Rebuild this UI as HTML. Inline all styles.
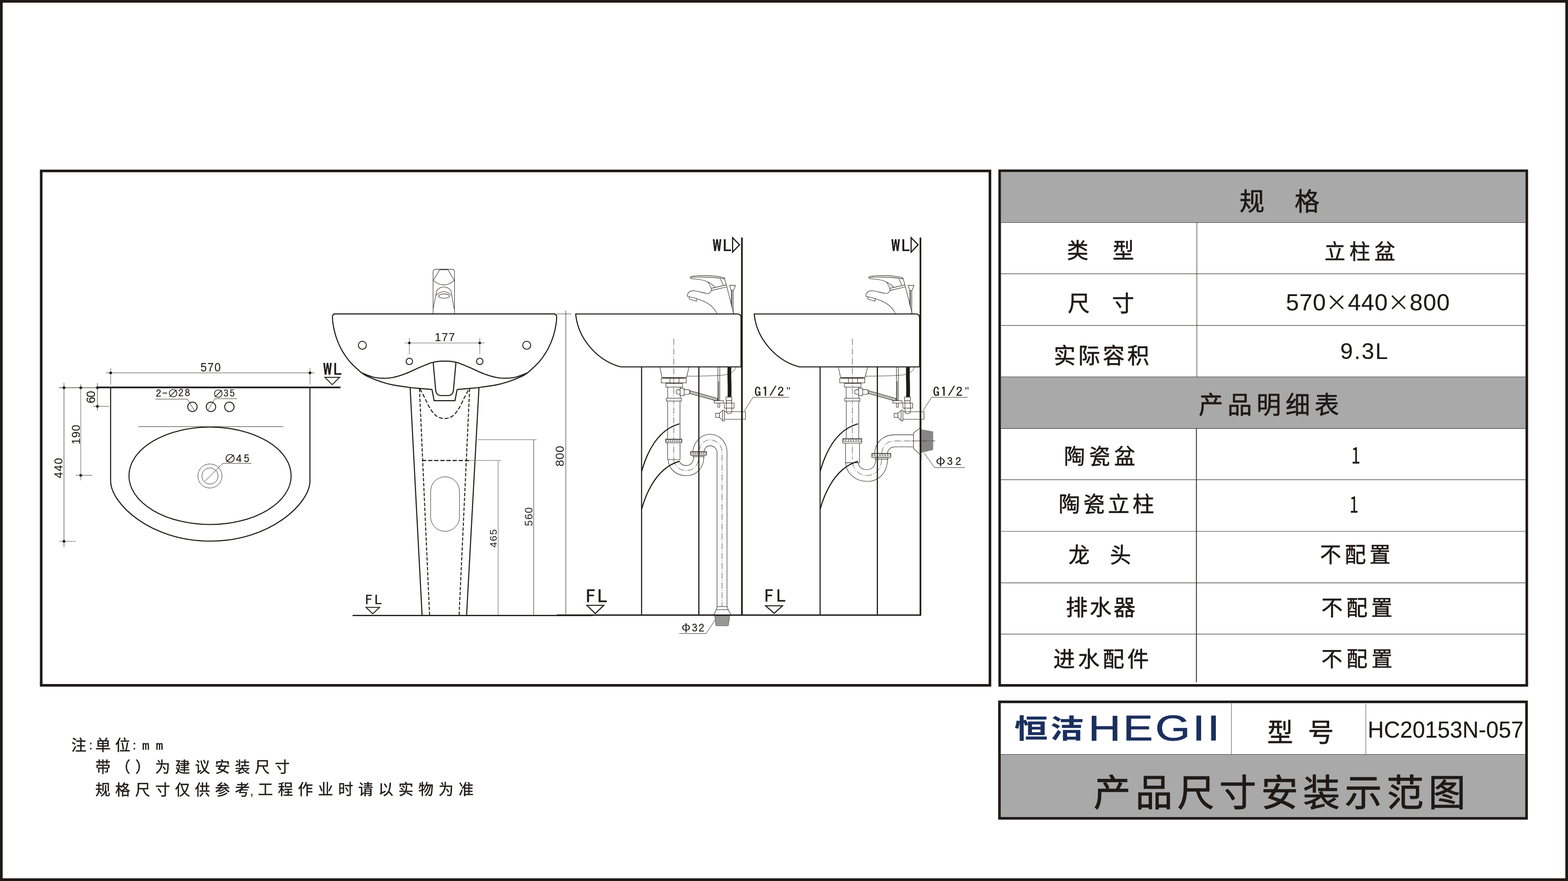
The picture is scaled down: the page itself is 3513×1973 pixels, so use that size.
<!DOCTYPE html>
<html lang="zh-CN">
<head>
<meta charset="utf-8">
<title>产品尺寸安装示范图 HC20153N-057</title>
<style>
html,body{margin:0;padding:0;background:#fff;}
body{width:3513px;height:1973px;overflow:hidden;}
svg{display:block;will-change:transform;}
text{white-space:pre;}
</style>
</head>
<body>
<svg width="3513" height="1973" viewBox="0 0 3513 1973">
<rect x="3" y="3" width="3507" height="1967" fill="none" stroke="#1f1a17" stroke-width="6" />
<rect x="92.3" y="382.8" width="2125.6" height="1152" fill="none" stroke="#1f1a17" stroke-width="5.8" />
<rect x="2242.7" y="385.3" width="1175.1" height="113.2" fill="#a9a9a9" />
<rect x="2242.7" y="844" width="1175.1" height="115.6" fill="#a9a9a9" />
<line x1="2242.7" y1="498.5" x2="3417.8" y2="498.5" stroke="#3a3533" stroke-width="1.2" />
<line x1="2242.7" y1="613.2" x2="3417.8" y2="613.2" stroke="#3a3533" stroke-width="1.2" />
<line x1="2242.7" y1="728.9" x2="3417.8" y2="728.9" stroke="#3a3533" stroke-width="1.2" />
<line x1="2242.7" y1="844" x2="3417.8" y2="844" stroke="#3a3533" stroke-width="1.2" />
<line x1="2242.7" y1="959.6" x2="3417.8" y2="959.6" stroke="#3a3533" stroke-width="1.2" />
<line x1="2242.7" y1="1074.3" x2="3417.8" y2="1074.3" stroke="#3a3533" stroke-width="1.2" />
<line x1="2242.7" y1="1190" x2="3417.8" y2="1190" stroke="#3a3533" stroke-width="1.2" />
<line x1="2242.7" y1="1305.3" x2="3417.8" y2="1305.3" stroke="#3a3533" stroke-width="1.2" />
<line x1="2242.7" y1="1420.1" x2="3417.8" y2="1420.1" stroke="#3a3533" stroke-width="1.2" />
<line x1="2681.5" y1="498.5" x2="2681.5" y2="844" stroke="#3a3533" stroke-width="1.2" />
<line x1="2680.5" y1="959.6" x2="2680.5" y2="1528" stroke="#1f1a17" stroke-width="1.8" />
<rect x="2239.7" y="382.4" width="1181" height="1152.5" fill="none" stroke="#1f1a17" stroke-width="5.8" />
<rect x="2242" y="1689.5" width="1175.5" height="140.5" fill="#a9a9a9" />
<line x1="2242" y1="1689.5" x2="3417.5" y2="1689.5" stroke="#3a3533" stroke-width="1.2" />
<line x1="2758.8" y1="1575" x2="2758.8" y2="1689.5" stroke="#6b6765" stroke-width="1.2" />
<line x1="3060" y1="1577" x2="3060" y2="1689.5" stroke="#6b6765" stroke-width="1.2" />
<rect x="2239.2" y="1571.8" width="1180.9" height="260.9" fill="none" stroke="#1f1a17" stroke-width="5.8" />
<text transform="translate(2779.05,470.94)" x="-2.1 121.57" y="0" font-family='"Liberation Sans", "Noto Sans CJK SC", sans-serif' font-size="55.9" fill="#1f1a17" stroke="#1f1a17" stroke-width="0.89" stroke-linejoin="round">规格</text>
<text transform="translate(2392.78,578.16)" x="-2.28 99.96" y="0" font-family='"Liberation Sans", "Noto Sans CJK SC", sans-serif' font-size="47.95" fill="#1f1a17" stroke="#1f1a17" stroke-width="0.77" stroke-linejoin="round">类型</text>
<text transform="translate(2969.87,579.9)" x="-2.45 53.44 109.33" y="0" font-family='"Liberation Sans", "Noto Sans CJK SC", sans-serif' font-size="46.63" fill="#1f1a17" stroke="#1f1a17" stroke-width="0.75" stroke-linejoin="round">立柱盆</text>
<text transform="translate(2393.9,697.41)" x="-1.61 97.59" y="0" font-family='"Liberation Sans", "Noto Sans CJK SC", sans-serif' font-size="49.39" fill="#1f1a17" stroke="#1f1a17" stroke-width="0.79" stroke-linejoin="round">尺寸</text>
<text transform="translate(2883.08,0)" fill="#1f1a17"><tspan x="-2.02 28.12 58.26" y="694.97" font-family='"Liberation Sans", sans-serif' font-size="52.42" stroke="#1f1a17" stroke-width="0.16" stroke-linejoin="round">570</tspan><tspan x="86.9" y="695.46" font-family='"Noto Sans CJK SC", sans-serif' font-size="49.35">×</tspan><tspan x="136.57 166.66 196.74" y="694.97" font-family='"Liberation Sans", sans-serif' font-size="52.42" stroke="#1f1a17" stroke-width="0.16" stroke-linejoin="round">440</tspan><tspan x="225.61" y="695.46" font-family='"Noto Sans CJK SC", sans-serif' font-size="49.35">×</tspan><tspan x="275.27 305.48 335.68" y="694.97" font-family='"Liberation Sans", sans-serif' font-size="52.42" stroke="#1f1a17" stroke-width="0.16" stroke-linejoin="round">800</tspan></text>
<text transform="translate(2364.29,814.17)" x="-3.43 51.56 106.55 161.53" y="0" font-family='"Liberation Sans", "Noto Sans CJK SC", sans-serif' font-size="48.94" fill="#1f1a17" stroke="#1f1a17" stroke-width="0.78" stroke-linejoin="round">实际容积</text>
<text transform="translate(3005.23,803.7)" x="-2.42 28.47 45.21 76.1" y="0" font-family='"Liberation Sans", sans-serif' font-size="50.85" fill="#1f1a17" stroke="#1f1a17" stroke-width="0.15" stroke-linejoin="round">9.3L</text>
<text transform="translate(2687.34,926.23)" x="-1.92 63.03 127.97 192.91 257.86" y="0" font-family='"Liberation Sans", "Noto Sans CJK SC", sans-serif' font-size="54.78" fill="#1f1a17" stroke="#1f1a17" stroke-width="0.88" stroke-linejoin="round">产品明细表</text>
<text transform="translate(2387.28,1038.84)" x="-3.43 52.62 108.67" y="0" font-family='"Liberation Sans", "Noto Sans CJK SC", sans-serif' font-size="47.31" fill="#1f1a17" stroke="#1f1a17" stroke-width="0.76" stroke-linejoin="round">陶瓷盆</text>
<text transform="translate(3030.65,1038.25) scale(0.7383,1)" x="-4.3" y="0" font-family='"Noto Sans CJK SC", sans-serif' font-size="49.16" fill="#1f1a17" stroke="#1f1a17" stroke-width="0.49" stroke-linejoin="round">1</text>
<text transform="translate(2375.29,1146.06)" x="-3.5 51.74 106.98 162.21" y="0" font-family='"Liberation Sans", "Noto Sans CJK SC", sans-serif' font-size="48.22" fill="#1f1a17" stroke="#1f1a17" stroke-width="0.77" stroke-linejoin="round">陶瓷立柱</text>
<text transform="translate(3026.75,1147.65) scale(0.7333,1)" x="-4.3" y="0" font-family='"Noto Sans CJK SC", sans-serif' font-size="49.16" fill="#1f1a17" stroke="#1f1a17" stroke-width="0.49" stroke-linejoin="round">1</text>
<text transform="translate(2395.68,1259.86)" x="-1.65 91.1" y="0" font-family='"Liberation Sans", "Noto Sans CJK SC", sans-serif' font-size="47.22" fill="#1f1a17" stroke="#1f1a17" stroke-width="0.76" stroke-linejoin="round">龙头</text>
<text transform="translate(2959.58,1259.15)" x="-2.12 53.31 108.75" y="0" font-family='"Liberation Sans", "Noto Sans CJK SC", sans-serif' font-size="47.19" fill="#1f1a17" stroke="#1f1a17" stroke-width="0.76" stroke-linejoin="round">不配置</text>
<text transform="translate(2390.09,1378.48)" x="-2.08 51.45 104.98" y="0" font-family='"Liberation Sans", "Noto Sans CJK SC", sans-serif' font-size="48.88" fill="#1f1a17" stroke="#1f1a17" stroke-width="0.78" stroke-linejoin="round">排水器</text>
<text transform="translate(2962.68,1378.11)" x="-2.14 53.64 109.42" y="0" font-family='"Liberation Sans", "Noto Sans CJK SC", sans-serif' font-size="47.63" fill="#1f1a17" stroke="#1f1a17" stroke-width="0.76" stroke-linejoin="round">不配置</text>
<text transform="translate(2361.79,1492.93)" x="-1.81 53.44 108.7 163.95" y="0" font-family='"Liberation Sans", "Noto Sans CJK SC", sans-serif' font-size="48.27" fill="#1f1a17" stroke="#1f1a17" stroke-width="0.77" stroke-linejoin="round">进水配件</text>
<text transform="translate(2962.68,1491.67)" x="-2.11 53.98 110.06" y="0" font-family='"Liberation Sans", "Noto Sans CJK SC", sans-serif' font-size="46.97" fill="#1f1a17" stroke="#1f1a17" stroke-width="0.75" stroke-linejoin="round">不配置</text>
<text transform="translate(2842.06,1661.32)" x="-2.74 88.49" y="0" font-family='"Liberation Sans", "Noto Sans CJK SC", sans-serif' font-size="57.68" fill="#1f1a17" stroke="#1f1a17" stroke-width="0.92" stroke-linejoin="round">型号</text>
<text transform="translate(3068.3,1652.07) scale(0.9585,1)" x="-4.33 33.54 71.4 100.55 129.71 158.87 188.02 217.18 255.04 272.5 301.66 330.81" y="0" font-family='"Liberation Sans", sans-serif' font-size="52.42" fill="#1f1a17" stroke="#1f1a17" stroke-width="0.21" stroke-linejoin="round">HC20153N-057</text>
<text transform="translate(2453.16,1805.49)" x="-2.9 90.89 184.68 278.48 372.27 466.06 559.85 653.64 747.44" y="0" font-family='"Liberation Sans", "Noto Sans CJK SC", sans-serif' font-size="82.88" fill="#1f1a17" stroke="#1f1a17" stroke-width="1.33" stroke-linejoin="round">产品尺寸安装示范图</text>
<text transform="translate(2274.2,0) scale(1.2700,1)" fill="#1b2f5e"><tspan x="-1.06 62.53" y="1652.62" font-family='"Liberation Sans", "Noto Sans CJK SC", sans-serif' font-size="58.88" font-weight="700" stroke="#1b2f5e" stroke-width="0.29" stroke-linejoin="round">恒洁</tspan><tspan x="129.16 190.43 247.32 313 339" y="1657.74" font-family='"Liberation Sans", sans-serif' font-size="79.36" stroke="#1b2f5e" stroke-width="0.95" stroke-linejoin="round">HEGII</tspan></text>
<text transform="translate(160.96,0)" fill="#1f1a17"><tspan x="-1.25" y="1680.82" font-family='"Liberation Sans", "Noto Sans CJK SC", sans-serif' font-size="33.77" stroke="#1f1a17" stroke-width="0.54" stroke-linejoin="round">注</tspan><tspan x="38.74" y="1678.24" font-family='"Liberation Sans", sans-serif' font-size="25.94" stroke="#1f1a17" stroke-width="0.78" stroke-linejoin="round">:</tspan><tspan x="52.55 96.8" y="1681.05" font-family='"Liberation Sans", "Noto Sans CJK SC", sans-serif' font-size="34.44" stroke="#1f1a17" stroke-width="0.55" stroke-linejoin="round">单位</tspan><tspan x="136.43" y="1678.24" font-family='"Liberation Sans", sans-serif' font-size="25.94" stroke="#1f1a17" stroke-width="0.78" stroke-linejoin="round">:</tspan><tspan x="157.67 188.18" y="1678.99" font-family='"Liberation Mono", monospace' font-size="27.07" stroke="#1f1a17" stroke-width="0.54" stroke-linejoin="round">mm</tspan></text>
<text transform="translate(215.05,0)" fill="#1f1a17"><tspan x="-1.42 43.22 87.87 132.52 177.16 221.81 266.46 311.1 355.75 400.4" y="1730.11" font-family='"Liberation Sans", "Noto Sans CJK SC", sans-serif' font-size="33.9" stroke="#1f1a17" stroke-width="0.54" stroke-linejoin="round">带（）为建议安装尺寸</tspan></text>
<text transform="translate(214.42,0)" fill="#1f1a17"><tspan x="-1 43.68 88.35 133.03 177.7 222.38 267.06 311.73" y="1780.51" font-family='"Liberation Sans", "Noto Sans CJK SC", sans-serif' font-size="33.81" stroke="#1f1a17" stroke-width="0.54" stroke-linejoin="round">规格尺寸仅供参考</tspan><tspan x="345.68" y="1780.95" font-family='"Liberation Sans", sans-serif' font-size="29.44">,</tspan><tspan x="363.25 408.22 453.2 498.18 543.15 588.13 633.1 678.08 723.05 768.03 813.01" y="1780.44" font-family='"Liberation Sans", "Noto Sans CJK SC", sans-serif' font-size="33.73" stroke="#1f1a17" stroke-width="0.54" stroke-linejoin="round">工程作业时请以实物为准</tspan></text>
<line x1="237.5" y1="835" x2="704.6" y2="835" stroke="#7f7c7a" stroke-width="1.3" />
<line x1="248" y1="824" x2="248" y2="861.1" stroke="#7f7c7a" stroke-width="1.3" />
<line x1="694.5" y1="824" x2="694.5" y2="861.1" stroke="#7f7c7a" stroke-width="1.3" />
<circle cx="248" cy="835" r="3.1" fill="#1f1a17"/>
<circle cx="694.5" cy="835" r="3.1" fill="#1f1a17"/>
<line x1="143.4" y1="857.6" x2="143.4" y2="1225" stroke="#5a5654" stroke-width="1.3" />
<line x1="180.9" y1="860" x2="180.9" y2="1075.6" stroke="#7f7c7a" stroke-width="1.3" />
<line x1="218.3" y1="858" x2="218.3" y2="919" stroke="#5a5654" stroke-width="1.3" />
<line x1="132" y1="868.3" x2="218" y2="868.3" stroke="#3a3533" stroke-width="1.3" />
<line x1="132.7" y1="1212.3" x2="170" y2="1212.3" stroke="#7f7c7a" stroke-width="1.3" />
<line x1="170" y1="1064.5" x2="207" y2="1064.5" stroke="#7f7c7a" stroke-width="1.3" />
<line x1="208.7" y1="910" x2="244.7" y2="910" stroke="#7f7c7a" stroke-width="1.3" />
<circle cx="143.4" cy="868.3" r="3.1" fill="#1f1a17"/>
<circle cx="180.9" cy="868.3" r="3.1" fill="#1f1a17"/>
<circle cx="218.3" cy="868.3" r="3.1" fill="#1f1a17"/>
<circle cx="218.3" cy="910" r="3.1" fill="#1f1a17"/>
<circle cx="180.9" cy="1064.5" r="3.1" fill="#1f1a17"/>
<circle cx="143.4" cy="1212.3" r="3.1" fill="#1f1a17"/>
<line x1="217.4" y1="867.6" x2="762.8" y2="867.6" stroke="#1f1a17" stroke-width="3.6" />
<path d="M 247.85 867.6 L 247.85 1077 C 247.85 1127.32 336.03 1211.9 471.1 1211.9 C 606.17 1211.9 694.4 1127.32 694.4 1077 L 694.4 867.6" fill="none" stroke="#1f1a17" stroke-width="2.4" />
<ellipse cx="470.6" cy="1065.5" rx="181.7" ry="109.1" fill="none" stroke="#1f1a17" stroke-width="2.3"/>
<line x1="309.8" y1="955.5" x2="634.7" y2="955.5" stroke="#2a2523" stroke-width="1.1" />
<circle cx="470.4" cy="1066" r="27" fill="none" stroke="#2a2523" stroke-width="1"/>
<circle cx="470.4" cy="1066" r="18.1" fill="none" stroke="#2a2523" stroke-width="1"/>
<circle cx="431.13" cy="911.12" r="10.6" fill="none" stroke="#1f1a17" stroke-width="2"/>
<circle cx="472.66" cy="911.12" r="10.6" fill="none" stroke="#1f1a17" stroke-width="2"/>
<circle cx="513.91" cy="911.12" r="10.6" fill="none" stroke="#1f1a17" stroke-width="2"/>
<path d="M 348.25 893.85 L 420.26 893.85 L 435.78 920.34" fill="none" stroke="#2a2523" stroke-width="1" />
<path d="M 530.89 892.88 L 481.4 892.88 L 466.35 917.92" fill="none" stroke="#2a2523" stroke-width="1" />
<path d="M 563.5 1037.8 L 499 1037.8 L 458.6 1078.2" fill="none" stroke="#2a2523" stroke-width="1" />
<text transform="translate(450.17,831.65) scale(0.9300,1)" x="-1.08 15.76 32.59" y="0" font-family='"Liberation Sans", sans-serif' font-size="26.88" fill="#1f1a17" stroke="#1f1a17" stroke-width="0.16" stroke-linejoin="round">570</text>
<text transform="translate(349.9,0) scale(1.1000,1)" fill="#1f1a17"><tspan x="-0.7 12.04" y="888.79" font-family='"IPAGothic", "Liberation Mono", monospace' font-size="21.88" stroke="#1f1a17" stroke-width="0.26" stroke-linejoin="round">2-</tspan><tspan x="22.94" y="889.26" font-family='"Noto Sans CJK SC", sans-serif' font-size="22.93">∅</tspan><tspan x="45.2 58.36" y="888.34" font-family='"IPAGothic", "Liberation Mono", monospace' font-size="21.29" stroke="#1f1a17" stroke-width="0.26" stroke-linejoin="round">28</tspan></text>
<text transform="translate(480.23,0) scale(1.1000,1)" fill="#1f1a17"><tspan x="-3.43" y="890.23" font-family='"Noto Sans CJK SC", sans-serif' font-size="22.93">∅</tspan><tspan x="18.37 31.13" y="889.01" font-family='"IPAGothic", "Liberation Mono", monospace' font-size="20.91" stroke="#1f1a17" stroke-width="0.25" stroke-linejoin="round">35</tspan></text>
<text transform="translate(505.95,0) scale(1.1000,1)" fill="#1f1a17"><tspan x="-3.7" y="1036.41" font-family='"Noto Sans CJK SC", sans-serif' font-size="24.75">∅</tspan><tspan x="20.65 36.51" y="1035.82" font-family='"IPAGothic", "Liberation Mono", monospace' font-size="23.02" stroke="#1f1a17" stroke-width="0.28" stroke-linejoin="round">45</tspan></text>
<text transform="translate(212.96,901.97) rotate(-90) scale(0.9700,1)" x="-1.36 12.23" y="0" font-family='"Liberation Sans", sans-serif' font-size="27.12" fill="#1f1a17" stroke="#1f1a17" stroke-width="0.16" stroke-linejoin="round">60</text>
<text transform="translate(179.36,993.62) rotate(-90) scale(0.9700,1)" x="-1.99 13.51 29.01" y="0" font-family='"Liberation Sans", sans-serif' font-size="26.49" fill="#1f1a17" stroke="#1f1a17" stroke-width="0.16" stroke-linejoin="round">190</text>
<text transform="translate(139.66,1070.52) rotate(-90) scale(0.9700,1)" x="-0.59 15.56 31.71" y="0" font-family='"Liberation Sans", sans-serif' font-size="26.07" fill="#1f1a17" stroke="#1f1a17" stroke-width="0.16" stroke-linejoin="round">440</text>
<text transform="translate(724.32,0) scale(1.1000,1)" fill="#1f1a17"><tspan x="-0.49 20.19" y="840.98" font-family='"IPAGothic", "Liberation Mono", monospace' font-size="36.47" stroke="#1f1a17" stroke-width="0.73" stroke-linejoin="round">WL</tspan></text>
<polygon points="727.92,845.05 760.81,845.05 744.39,861.36" fill="none" stroke="#1f1a17" stroke-width="2" stroke-linejoin="miter"/>
<path d="M 970.27 701.96 L 970.27 609.07 Q 970.27 603.1 976.24 603.1 L 1012.4 603.1 Q 1018.37 603.1 1018.37 609.07 L 1018.37 701.96" fill="none" stroke="#2a2523" stroke-width="1.1" />
<path d="M 985.45 603.68 L 1003.44 603.68" fill="none" stroke="#2a2523" stroke-width="2" />
<path d="M 985.45 603.68 L 970.52 628.15 Q 994.32 648.05 1017.96 628.15 L 1003.44 603.68" fill="none" stroke="#2a2523" stroke-width="1.1" />
<path d="M 970.27 692.01 L 976.49 661.32 L 978.15 652.2 Q 979.81 648.05 986.44 644.32 Q 994.32 640.59 1002.2 644.32 Q 1008.83 648.05 1010.49 651.37 L 1012.15 661.32 L 1017.54 692.01" fill="none" stroke="#2a2523" stroke-width="1.1" />
<path d="M 976.49 661.32 Q 993.91 645.56 1010.49 660.49" fill="none" stroke="#2a2523" stroke-width="1.1" />
<ellipse cx="994.74" cy="663.15" rx="12" ry="4.8" fill="none" stroke="#2a2523" stroke-width="1.1"/>
<path d="M 996 703 L 750.97 703 Q 744.87 703 744.87 710.32" fill="none" stroke="#1f1a17" stroke-width="2.4" />
<path d="M 744.87 710.32 C 744.87 720.32 745.6 721.45 746.61 727.74 C 747.63 734.03 749.03 741.29 750.97 748.06 C 752.9 754.84 755.32 761.61 758.23 768.39 C 761.13 775.16 764.27 781.94 768.39 788.71 C 772.5 795.48 777.58 802.74 782.9 809.03 C 788.23 815.32 795.73 822.1 800.32 826.45 C 804.92 830.81 806.85 832.5 810.48 835.16 C 814.11 837.82 815.32 839.27 822.1 842.42 C 828.87 845.56 841.45 850.77 851.13 854.03 C 860.81 857.3 868.79 859.72 880.16 862.02 C 891.53 864.31 909.19 866.49 919.35 867.82 C 929.52 869.15 933.04 869.27 941.13 870 C 949.22 870.73 958.98 871.47 967.9 872.2" fill="none" stroke="#1f1a17" stroke-width="2.4" />
<path d="M 996 703 L 1241.03 703 Q 1247.13 703 1247.13 710.32" fill="none" stroke="#1f1a17" stroke-width="2.4" />
<path d="M 1247.13 710.32 C 1247.13 720.32 1246.4 721.45 1245.39 727.74 C 1244.37 734.03 1242.97 741.29 1241.03 748.06 C 1239.1 754.84 1236.68 761.61 1233.77 768.39 C 1230.87 775.16 1227.73 781.94 1223.61 788.71 C 1219.5 795.48 1214.42 802.74 1209.1 809.03 C 1203.77 815.32 1196.27 822.1 1191.68 826.45 C 1187.08 830.81 1185.15 832.5 1181.52 835.16 C 1177.89 837.82 1176.68 839.27 1169.9 842.42 C 1163.13 845.56 1150.55 850.77 1140.87 854.03 C 1131.19 857.3 1123.21 859.72 1111.84 862.02 C 1100.47 864.31 1082.81 866.49 1072.65 867.82 C 1062.48 869.15 1058.96 869.27 1050.87 870 C 1042.78 870.73 1033.02 871.47 1024.1 872.2" fill="none" stroke="#1f1a17" stroke-width="2.4" />
<path d="M 810.48 835.16 C 819.19 838.31 828.39 842.61 836.61 844.6 C 844.84 846.58 852.58 846.94 859.84 847.06 C 867.1 847.19 871.94 847.06 880.16 845.32 C 888.39 843.58 899.52 840.24 909.19 836.61 C 918.87 832.98 929.39 827.35 938.23 823.55 C 947.06 819.75 956.82 815.84 962.2 813.8 C 967.58 811.76 967.05 812.07 970.5 811.3 C 973.95 810.53 978.65 809.62 982.9 809.2 C 987.15 808.78 992.67 808.8 996 808.8" fill="none" stroke="#1f1a17" stroke-width="2.4" />
<path d="M 1181.52 835.16 C 1172.81 838.31 1163.61 842.61 1155.39 844.6 C 1147.16 846.58 1139.42 846.94 1132.16 847.06 C 1124.9 847.19 1120.06 847.06 1111.84 845.32 C 1103.61 843.58 1092.48 840.24 1082.81 836.61 C 1073.13 832.98 1062.61 827.35 1053.77 823.55 C 1044.94 819.75 1035.18 815.84 1029.8 813.8 C 1024.42 811.76 1024.95 812.07 1021.5 811.3 C 1018.05 810.53 1013.35 809.62 1009.1 809.2 C 1004.85 808.78 999.33 808.8 996 808.8" fill="none" stroke="#1f1a17" stroke-width="2.4" />
<path d="M 967.9 872.2 L 972.6 897.3 L 1019.4 897.3 L 1024.1 872.2" fill="none" stroke="#1f1a17" stroke-width="2.4" />
<path d="M 970.5 811.6 L 976.0 872.5 Q 977.2 885.9 988 885.9 L 1004 885.9 Q 1014.8 885.9 1016 872.5 L 1021.5 811.6" fill="none" stroke="#1f1a17" stroke-width="2.4" />
<circle cx="811.9" cy="773.2" r="9" fill="none" stroke="#1f1a17" stroke-width="2"/>
<circle cx="1180.1" cy="773.2" r="9" fill="none" stroke="#1f1a17" stroke-width="2"/>
<circle cx="917.1" cy="809.4" r="7.2" fill="none" stroke="#1f1a17" stroke-width="2"/>
<circle cx="1074.9" cy="809.4" r="7.2" fill="none" stroke="#1f1a17" stroke-width="2"/>
<line x1="906.6" y1="768.1" x2="1085.4" y2="768.1" stroke="#7f7c7a" stroke-width="1.3" />
<line x1="917.1" y1="757.1" x2="917.1" y2="793.8" stroke="#7f7c7a" stroke-width="1.3" />
<circle cx="917.1" cy="768.1" r="2.8" fill="#1f1a17"/>
<line x1="1074.9" y1="757.1" x2="1074.9" y2="793.8" stroke="#7f7c7a" stroke-width="1.3" />
<circle cx="1074.9" cy="768.1" r="2.8" fill="#1f1a17"/>
<text transform="translate(975.8,763.95) scale(0.9700,1)" x="-1.97 14.06 30.09" y="0" font-family='"Liberation Sans", sans-serif' font-size="26.31" fill="#1f1a17" stroke="#1f1a17" stroke-width="0.16" stroke-linejoin="round">177</text>
<line x1="918.9" y1="868.6" x2="945.6" y2="1377" stroke="#1f1a17" stroke-width="2.4" />
<line x1="1073.1" y1="868.6" x2="1045.4" y2="1377" stroke="#1f1a17" stroke-width="2.4" />
<line x1="939.8" y1="870.8" x2="962.4" y2="1377" stroke="#1f1a17" stroke-width="2.2" stroke-dasharray="7.5 3.6"/>
<line x1="1052.2" y1="870.8" x2="1028.6" y2="1377" stroke="#1f1a17" stroke-width="2.2" stroke-dasharray="7.5 3.6"/>
<line x1="945.5" y1="1031.2" x2="1051" y2="1031.2" stroke="#1f1a17" stroke-width="2.6" stroke-dasharray="9.5 4.2"/>
<path d="M 940.95 870.86 C 944.58 877.77 948.29 884.68 951.83 891.59 C 955.38 898.51 958.75 906.45 962.2 912.33 C 965.66 918.2 969.11 923.13 972.57 926.84 C 976.02 930.56 979.05 932.89 982.93 934.62 C 986.82 936.34 991.57 937.21 995.89 937.21 C 1000.21 937.21 1004.96 936.34 1008.85 934.62 C 1012.74 932.89 1015.76 930.56 1019.22 926.84 C 1022.67 923.13 1026.13 918.2 1029.58 912.33 C 1033.04 906.45 1036.41 898.51 1039.95 891.59 C 1043.49 884.68 1047.21 877.77 1050.84 870.86" fill="none" stroke="#1f1a17" stroke-width="2.2" stroke-dasharray="9 4"/>
<rect x="964.8" y="1067.7" width="64.6" height="122.3" fill="none" stroke="#2a2523" stroke-width="1" rx="32.3" ry="32.3"/>
<line x1="1050.6" y1="1031.2" x2="1122.8" y2="1031.2" stroke="#7f7c7a" stroke-width="1.3" />
<line x1="1116" y1="1031.2" x2="1116" y2="1377" stroke="#7f7c7a" stroke-width="1.3" />
<line x1="1070.3" y1="984.7" x2="1202.2" y2="984.7" stroke="#7f7c7a" stroke-width="1.3" />
<line x1="1195.6" y1="984.7" x2="1195.6" y2="1377" stroke="#5a5654" stroke-width="1.3" />
<line x1="1246.6" y1="703" x2="1279.8" y2="703" stroke="#7f7c7a" stroke-width="1.3" />
<line x1="1267.6" y1="695.5" x2="1267.6" y2="1377" stroke="#5a5654" stroke-width="1.3" />
<text transform="translate(1112.56,1225.74) rotate(-90)" x="-0.5 13.71 27.92" y="0" font-family='"Liberation Sans", sans-serif' font-size="22.27" fill="#1f1a17">465</text>
<text transform="translate(1192.58,1177.22) rotate(-90)" x="-0.94 13.58 28.09" y="0" font-family='"Liberation Sans", sans-serif' font-size="23.44" fill="#1f1a17">560</text>
<text transform="translate(1262.85,1043.67) rotate(-90)" x="-1.13 14.59 30.32" y="0" font-family='"Liberation Sans", sans-serif' font-size="26.63" fill="#1f1a17">800</text>
<line x1="790" y1="1378.4" x2="1328" y2="1378.4" stroke="#1f1a17" stroke-width="2.8" />
<text transform="translate(820.1,0) scale(1.1500,1)" fill="#1f1a17"><tspan x="-2.11 16.18" y="1354.67" font-family='"IPAGothic", "Liberation Mono", monospace' font-size="31.3" stroke="#1f1a17" stroke-width="0.19" stroke-linejoin="round">FL</tspan></text>
<polygon points="820,1360.3 850.5,1360.3 835.2,1374.6" fill="none" stroke="#1f1a17" stroke-width="2" stroke-linejoin="miter"/>
<g>
<line x1="1662.2" y1="531.9" x2="1662.2" y2="1378" stroke="#1f1a17" stroke-width="3.7" />
<path d="M 1288.7 703.1 L 1652 703.1 Q 1660.3 703.1 1660.3 712 L 1660.3 821.6 L 1390.5 821.6" fill="none" stroke="#1f1a17" stroke-width="2.4" />
<path d="M 1289.8 703.1 C 1295.17 761.67 1341.96 809.25 1391.0 821.6" fill="none" stroke="#1f1a17" stroke-width="2.4" />
<line x1="1437.4" y1="821.5" x2="1437.4" y2="1377" stroke="#1f1a17" stroke-width="2.4" />
<line x1="1565.8" y1="821.5" x2="1565.8" y2="1377" stroke="#1f1a17" stroke-width="2.3" />
<path d="M 1522.28 949.11 C 1459.46 966.3 1440.77 1046.07 1437.62 1055.3" fill="none" stroke="#1f1a17" stroke-width="2.5" />
<path d="M 1522.28 1033.02 C 1463.54 1049.83 1442.37 1122.6 1437.62 1139.96" fill="none" stroke="#1f1a17" stroke-width="2.5" />
<line x1="1509.6" y1="758.5" x2="1509.6" y2="1029" stroke="#2a2523" stroke-width="0.9" stroke-dasharray="14 3 2 3"/>
<path d="M 1478.38 822.4 L 1483.36 845.62 L 1537.9 845.62 L 1543.7 822.4" fill="none" stroke="#2a2523" stroke-width="1.1" />
<path d="M 1485.02 846.45 L 1532.71 846.45" fill="none" stroke="#2a2523" stroke-width="1.8" />
<rect x="1481.49" y="847.07" width="55.99" height="10.37" fill="none" stroke="#2a2523" stroke-width="1.1" />
<line x1="1500.98" y1="847.07" x2="1500.98" y2="857.44" stroke="#2a2523" stroke-width="1.1" />
<line x1="1521.31" y1="847.07" x2="1521.31" y2="857.44" stroke="#2a2523" stroke-width="1.1" />
<rect x="1491.86" y="858.68" width="37.12" height="8.29" fill="none" stroke="#2a2523" stroke-width="1.1" />
<rect x="1492.69" y="891.86" width="33.8" height="6.22" fill="#fff" stroke="#2a2523" stroke-width="1.1" />
<path d="M 1495.8 866.98 L 1495.8 891.86 M 1524 866.98 L 1524 891.86" fill="none" stroke="#2a2523" stroke-width="1.1" />
<path d="M 1524.42 872.58 L 1520.27 872.58 Q 1514.67 872.58 1514.67 877.76 Q 1514.67 882.94 1520.27 882.94 L 1524.42 882.94" fill="none" stroke="#2a2523" stroke-width="1.1" />
<rect x="1523.79" y="869.47" width="8.92" height="16.59" fill="#fff" stroke="#2a2523" stroke-width="1.1" />
<path d="M 1532.71 872.58 L 1542.04 872.58 Q 1545.15 872.58 1545.15 875.06 L 1545.15 880.87 Q 1545.15 882.94 1542.04 882.94 L 1532.71 882.94" fill="none" stroke="#2a2523" stroke-width="1.1" />
<polygon points="1545.15,874.65 1607.36,892.28 1607.36,898.5 1545.15,881.29" fill="#8a8785" stroke="#2a2523" stroke-width="1"/>
<line x1="1547.98" y1="876.28" x2="1547.98" y2="881.24" stroke="#fff" stroke-width="1.3" />
<line x1="1550.81" y1="877.08" x2="1550.81" y2="882.02" stroke="#fff" stroke-width="1.3" />
<line x1="1553.64" y1="877.88" x2="1553.64" y2="882.8" stroke="#fff" stroke-width="1.3" />
<line x1="1556.46" y1="878.68" x2="1556.46" y2="883.59" stroke="#fff" stroke-width="1.3" />
<line x1="1559.29" y1="879.49" x2="1559.29" y2="884.37" stroke="#fff" stroke-width="1.3" />
<line x1="1562.12" y1="880.29" x2="1562.12" y2="885.15" stroke="#fff" stroke-width="1.3" />
<line x1="1564.95" y1="881.09" x2="1564.95" y2="885.93" stroke="#fff" stroke-width="1.3" />
<line x1="1567.77" y1="881.89" x2="1567.77" y2="886.71" stroke="#fff" stroke-width="1.3" />
<line x1="1570.6" y1="882.69" x2="1570.6" y2="887.5" stroke="#fff" stroke-width="1.3" />
<line x1="1573.43" y1="883.49" x2="1573.43" y2="888.28" stroke="#fff" stroke-width="1.3" />
<line x1="1576.26" y1="884.29" x2="1576.26" y2="889.06" stroke="#fff" stroke-width="1.3" />
<line x1="1579.08" y1="885.09" x2="1579.08" y2="889.84" stroke="#fff" stroke-width="1.3" />
<line x1="1581.91" y1="885.89" x2="1581.91" y2="890.63" stroke="#fff" stroke-width="1.3" />
<line x1="1584.74" y1="886.7" x2="1584.74" y2="891.41" stroke="#fff" stroke-width="1.3" />
<line x1="1587.57" y1="887.5" x2="1587.57" y2="892.19" stroke="#fff" stroke-width="1.3" />
<line x1="1590.4" y1="888.3" x2="1590.4" y2="892.97" stroke="#fff" stroke-width="1.3" />
<line x1="1593.22" y1="889.1" x2="1593.22" y2="893.76" stroke="#fff" stroke-width="1.3" />
<line x1="1596.05" y1="889.9" x2="1596.05" y2="894.54" stroke="#fff" stroke-width="1.3" />
<line x1="1598.88" y1="890.7" x2="1598.88" y2="895.32" stroke="#fff" stroke-width="1.3" />
<line x1="1601.71" y1="891.5" x2="1601.71" y2="896.1" stroke="#fff" stroke-width="1.3" />
<line x1="1604.53" y1="892.3" x2="1604.53" y2="896.88" stroke="#fff" stroke-width="1.3" />
<path d="M 1608.4 822.4 L 1608.4 911.98 L 1612.55 911.98 L 1612.55 822.4 M 1610.06 853.91 L 1610.06 897.46" fill="none" stroke="#2a2523" stroke-width="1.1" />
<rect x="1600.1" y="897.46" width="20.74" height="5.18" fill="#fff" stroke="#2a2523" stroke-width="1.1" />
<path d="M 1537.9 842.51 C 1586.63 842.09 1617.73 841.47 1630.17 838.36 C 1640.54 835.25 1646.76 829.03 1648.83 822.4" fill="none" stroke="#2a2523" stroke-width="0.9" />
<path d="M 1634.32 822.4 C 1633.07 841.47 1635.56 866.36 1634.32 889.17" fill="none" stroke="#1f1a17" stroke-width="8.5" />
<rect x="1626.65" y="889.17" width="12.86" height="8.29" fill="#fff" stroke="#2a2523" stroke-width="1.1" />
<rect x="1627.48" y="897.46" width="11.2" height="5.18" fill="#fff" stroke="#2a2523" stroke-width="1.1" />
<rect x="1622.91" y="902.64" width="21.77" height="11.4" fill="#fff" stroke="#2a2523" stroke-width="1.1" />
<path d="M 1627.48 902.64 L 1627.48 920.68 Q 1627.48 926.49 1633.49 926.49 Q 1639.5 926.49 1639.5 920.68 L 1639.5 902.64" fill="none" stroke="#2a2523" stroke-width="1.1" />
<path d="M 1622.91 921.93 L 1670.19 921.93 L 1670.19 938.93 L 1622.91 938.93" fill="none" stroke="#2a2523" stroke-width="1.1" />
<rect x="1618.77" y="918.61" width="4.15" height="24.05" fill="none" stroke="#2a2523" stroke-width="1.1" />
<path d="M 1618.77 919.85 L 1611.51 925.45 L 1611.51 934.78 L 1618.77 941.42" fill="none" stroke="#2a2523" stroke-width="1.1" />
<rect x="1603.21" y="925.45" width="8.29" height="9.33" fill="none" stroke="#2a2523" stroke-width="1.1" />
<path d="M 1667.5 920.27 L 1687.2 889.79 L 1767.65 889.79" fill="none" stroke="#2a2523" stroke-width="1" />
<path d="M 1546.54 620.32 C 1547.37 618.41 1557.33 617.75 1578.06 617.17 C 1594.65 617 1611.24 619.49 1622.85 622.23 L 1622.44 624.47" fill="none" stroke="#2a2523" stroke-width="1.1" />
<path d="M 1547.79 621.73 C 1561.47 619.74 1594.65 619.91 1622.44 624.47" fill="none" stroke="#2a2523" stroke-width="1.1" />
<path d="M 1546.54 620.32 C 1545.88 622.23 1547.54 623.89 1550.03 624.3 C 1565.62 625.3 1579.72 628.2 1585.53 631.52 C 1589.67 636.5 1592.99 643.13 1593.82 648.11 C 1593.82 651.84 1592.16 654.91 1588.85 656.82 C 1587.19 657.4 1585.53 657.4 1583.04 657.07 C 1573.92 655.57 1561.47 651.26 1553.18 651.01 C 1546.54 651.01 1540.74 654.74 1539.74 662.21 L 1539.91 663.45 C 1561.47 668.02 1594.65 676.31 1605.85 701.86" fill="none" stroke="#2a2523" stroke-width="1.1" />
<path d="M 1544.47 665.11 L 1544.05 669.67 L 1560.23 674.65 L 1561.47 668.68" fill="none" stroke="#2a2523" stroke-width="1.1" />
<path d="M 1622.85 622.23 L 1627.83 639.81 L 1643.59 702.02" fill="none" stroke="#2a2523" stroke-width="1.1" />
<path d="M 1594.24 645.62 L 1627 638.16 M 1593.82 650.6 L 1628 642.47" fill="none" stroke="#2a2523" stroke-width="1.1" />
<path d="M 1585.53 631.52 C 1591.33 634.01 1597.14 638.16 1602.12 643.13 M 1614.14 624.88 L 1620.36 638.57" fill="none" stroke="#2a2523" stroke-width="1.1" />
<path d="M 1634.47 639.15 L 1647.74 639.15 L 1643.59 650.18 L 1638.2 650.18 Z" fill="none" stroke="#2a2523" stroke-width="1.1" />
<path d="M 1638.45 650.18 L 1638.45 683.78 M 1640.02 650.18 L 1640.02 689.58 M 1642.76 650.18 L 1642.76 702.02" fill="none" stroke="#2a2523" stroke-width="1.1" />
<polygon points="1641.3,532.17 1641.3,564.59 1656.92,548.24" fill="none" stroke="#1f1a17" stroke-width="2.6" stroke-linejoin="miter"/>
</g>
<text transform="translate(1596.93,0) scale(1.1000,1)" fill="#1f1a17"><tspan x="-0.49 20.35" y="564.12" font-family='"IPAGothic", "Liberation Mono", monospace' font-size="36.62" stroke="#1f1a17" stroke-width="0.73" stroke-linejoin="round">WL</tspan></text>
<text transform="translate(1691.26,0) scale(1.1000,1)" fill="#1f1a17"><tspan x="-1.02 14.51" y="886.67" font-family='"IPAGothic", "Liberation Mono", monospace' font-size="26.51" stroke="#1f1a17" stroke-width="0.37" stroke-linejoin="round">G1</tspan><tspan x="28.04" y="886.34" font-family='"Liberation Mono", monospace' font-size="29.58">/</tspan><tspan x="45.95" y="886.82" font-family='"IPAGothic", "Liberation Mono", monospace' font-size="26.71" stroke="#1f1a17" stroke-width="0.37" stroke-linejoin="round">2</tspan><tspan x="62.61" y="879.57" font-family='"Liberation Mono", monospace' font-size="18.63">&quot;</tspan></text>
<path d="M 1495.76 960 L 1495.76 1029.26 L 1523.55 1029.26 L 1523.55 960" fill="none" stroke="#2a2523" stroke-width="1.1" />
<line x1="1495.8" y1="898" x2="1495.8" y2="960" stroke="#2a2523" stroke-width="1.1" />
<line x1="1523.5" y1="898" x2="1523.5" y2="960" stroke="#2a2523" stroke-width="1.1" />
<rect x="1491.2" y="983.33" width="36.5" height="8.29" fill="#fff" stroke="#2a2523" stroke-width="1.1" />
<rect x="1492.4" y="984.63" width="34.1" height="4.15" fill="none" stroke="#2a2523" stroke-width="0.8" />
<line x1="1497.27" y1="984.63" x2="1497.27" y2="988.78" stroke="#6a6664" stroke-width="1.6" />
<line x1="1502.14" y1="984.63" x2="1502.14" y2="988.78" stroke="#6a6664" stroke-width="1.6" />
<line x1="1507.01" y1="984.63" x2="1507.01" y2="988.78" stroke="#6a6664" stroke-width="1.6" />
<line x1="1511.88" y1="984.63" x2="1511.88" y2="988.78" stroke="#6a6664" stroke-width="1.6" />
<line x1="1516.75" y1="984.63" x2="1516.75" y2="988.78" stroke="#6a6664" stroke-width="1.6" />
<line x1="1521.62" y1="984.63" x2="1521.62" y2="988.78" stroke="#6a6664" stroke-width="1.6" />
<path d="M 1497.11 1029.26 C 1497.11 1049.17 1514.21 1065.24 1538.06 1065.24 C 1559.83 1065.24 1576.94 1048.13 1576.94 1022.73" fill="none" stroke="#2a2523" stroke-width="1.1" />
<path d="M 1521.47 1031.54 C 1523.55 1038.8 1529.77 1042.63 1538.06 1042.63 C 1547.39 1042.63 1554.13 1034.65 1554.13 1022.73" fill="none" stroke="#2a2523" stroke-width="1.1" />
<path d="M 1509.55 1029.26 C 1511.1 1042.94 1521.47 1053.83 1538.06 1053.83 C 1554.65 1053.83 1565.23 1040.87 1565.54 1022.73" fill="none" stroke="#2a2523" stroke-width="0.9" stroke-dasharray="14 3 2 3"/>
<rect x="1546.87" y="1011.32" width="36.08" height="8.29" fill="#fff" stroke="#2a2523" stroke-width="1.1" />
<rect x="1548.07" y="1012.62" width="33.68" height="4.15" fill="none" stroke="#2a2523" stroke-width="0.8" />
<line x1="1552.89" y1="1012.62" x2="1552.89" y2="1016.77" stroke="#6a6664" stroke-width="1.6" />
<line x1="1557.7" y1="1012.62" x2="1557.7" y2="1016.77" stroke="#6a6664" stroke-width="1.6" />
<line x1="1562.51" y1="1012.62" x2="1562.51" y2="1016.77" stroke="#6a6664" stroke-width="1.6" />
<line x1="1567.32" y1="1012.62" x2="1567.32" y2="1016.77" stroke="#6a6664" stroke-width="1.6" />
<line x1="1572.13" y1="1012.62" x2="1572.13" y2="1016.77" stroke="#6a6664" stroke-width="1.6" />
<line x1="1576.94" y1="1012.62" x2="1576.94" y2="1016.77" stroke="#6a6664" stroke-width="1.6" />
<rect x="1552.58" y="1019.93" width="24.88" height="2.8" fill="#fff" stroke="#2a2523" stroke-width="1.1" />
<path d="M 1552.06 1011.32 C 1554.65 989.03 1571.24 972.44 1590.42 972.44 C 1611.67 972.44 1628.78 990.07 1628.78 1011.84 L 1628.78 1388.72" fill="none" stroke="#2a2523" stroke-width="1.1" />
<path d="M 1576.94 1011.32 C 1578.5 1003.55 1583.68 998.36 1590.42 998.36 C 1599.23 998.36 1606.49 1004.58 1606.49 1013.91 L 1606.49 1388.72" fill="none" stroke="#2a2523" stroke-width="1.1" />
<path d="M 1565.54 1011.32 C 1568.13 995.25 1578.5 985.19 1590.42 985.19 C 1605.45 985.19 1617.69 996.29 1617.69 1012.88 L 1617.69 1388.72" fill="none" stroke="#2a2523" stroke-width="0.9" stroke-dasharray="14 3 2 3"/>
<line x1="1565.8" y1="822.5" x2="1565.8" y2="1376" stroke="#1f1a17" stroke-width="2.3" />
<polygon points="1606.77,1358.55 1604.56,1365.46 1599.03,1376.79 1637.73,1376.79 1631.65,1365.46 1628.89,1358.55" fill="#fff" stroke="#2a2523" stroke-width="1.1" stroke-linejoin="round"/>
<line x1="1604.56" y1="1365.46" x2="1631.65" y2="1365.46" stroke="#2a2523" stroke-width="1.1" />
<polygon points="1601.24,1379.28 1634.97,1379.28 1631.65,1401.4 1604.01,1401.4" fill="#b5b3b1" stroke="#2a2523" stroke-width="0.8" stroke-linejoin="round"/>
<line x1="1602.07" y1="1381.74" x2="1634.14" y2="1381.74" stroke="#55514f" stroke-width="0.7" />
<line x1="1602.35" y1="1384.2" x2="1633.86" y2="1384.2" stroke="#55514f" stroke-width="0.7" />
<line x1="1602.63" y1="1386.65" x2="1633.59" y2="1386.65" stroke="#55514f" stroke-width="0.7" />
<line x1="1602.9" y1="1389.11" x2="1633.31" y2="1389.11" stroke="#55514f" stroke-width="0.7" />
<line x1="1603.18" y1="1391.57" x2="1633.03" y2="1391.57" stroke="#55514f" stroke-width="0.7" />
<line x1="1603.46" y1="1394.02" x2="1632.76" y2="1394.02" stroke="#55514f" stroke-width="0.7" />
<line x1="1603.73" y1="1396.48" x2="1632.48" y2="1396.48" stroke="#55514f" stroke-width="0.7" />
<line x1="1604.01" y1="1398.94" x2="1632.2" y2="1398.94" stroke="#55514f" stroke-width="0.7" />
<line x1="1247.5" y1="1377.6" x2="2064" y2="1377.6" stroke="#1f1a17" stroke-width="3" />
<path d="M 1601.8 1388.96 L 1581.89 1418.81 L 1521.63 1418.81" fill="none" stroke="#2a2523" stroke-width="1" />
<text transform="translate(1530.48,0) scale(1.1000,1)" fill="#1f1a17"><tspan x="-3.1" y="1411.79" font-family='"Noto Sans CJK SC", sans-serif' font-size="24.02">φ</tspan><tspan x="17.47 31.45" y="1414.95" font-family='"IPAGothic", "Liberation Mono", monospace' font-size="23.53" stroke="#1f1a17" stroke-width="0.28" stroke-linejoin="round">32</tspan></text>
<text transform="translate(1315.29,0) scale(1.1500,1)" fill="#1f1a17"><tspan x="-2.64 19.65" y="1349.62" font-family='"IPAGothic", "Liberation Mono", monospace' font-size="40.82" stroke="#1f1a17" stroke-width="0.49" stroke-linejoin="round">FL</tspan></text>
<polygon points="1314.85,1355.64 1352.61,1355.64 1333.73,1374.08" fill="none" stroke="#1f1a17" stroke-width="2.4" stroke-linejoin="miter"/>
<g transform="translate(400,0)">
<line x1="1662.2" y1="531.9" x2="1662.2" y2="1378" stroke="#1f1a17" stroke-width="3.7" />
<path d="M 1288.7 703.1 L 1652 703.1 Q 1660.3 703.1 1660.3 712 L 1660.3 821.6 L 1390.5 821.6" fill="none" stroke="#1f1a17" stroke-width="2.4" />
<path d="M 1289.8 703.1 C 1295.17 761.67 1341.96 809.25 1391.0 821.6" fill="none" stroke="#1f1a17" stroke-width="2.4" />
<line x1="1437.4" y1="821.5" x2="1437.4" y2="1377" stroke="#1f1a17" stroke-width="2.4" />
<line x1="1565.8" y1="821.5" x2="1565.8" y2="1377" stroke="#1f1a17" stroke-width="2.3" />
<path d="M 1522.28 949.11 C 1459.46 966.3 1440.77 1046.07 1437.62 1055.3" fill="none" stroke="#1f1a17" stroke-width="2.5" />
<path d="M 1522.28 1033.02 C 1463.54 1049.83 1442.37 1122.6 1437.62 1139.96" fill="none" stroke="#1f1a17" stroke-width="2.5" />
<line x1="1509.6" y1="758.5" x2="1509.6" y2="1029" stroke="#2a2523" stroke-width="0.9" stroke-dasharray="14 3 2 3"/>
<path d="M 1478.38 822.4 L 1483.36 845.62 L 1537.9 845.62 L 1543.7 822.4" fill="none" stroke="#2a2523" stroke-width="1.1" />
<path d="M 1485.02 846.45 L 1532.71 846.45" fill="none" stroke="#2a2523" stroke-width="1.8" />
<rect x="1481.49" y="847.07" width="55.99" height="10.37" fill="none" stroke="#2a2523" stroke-width="1.1" />
<line x1="1500.98" y1="847.07" x2="1500.98" y2="857.44" stroke="#2a2523" stroke-width="1.1" />
<line x1="1521.31" y1="847.07" x2="1521.31" y2="857.44" stroke="#2a2523" stroke-width="1.1" />
<rect x="1491.86" y="858.68" width="37.12" height="8.29" fill="none" stroke="#2a2523" stroke-width="1.1" />
<rect x="1492.69" y="891.86" width="33.8" height="6.22" fill="#fff" stroke="#2a2523" stroke-width="1.1" />
<path d="M 1495.8 866.98 L 1495.8 891.86 M 1524 866.98 L 1524 891.86" fill="none" stroke="#2a2523" stroke-width="1.1" />
<path d="M 1524.42 872.58 L 1520.27 872.58 Q 1514.67 872.58 1514.67 877.76 Q 1514.67 882.94 1520.27 882.94 L 1524.42 882.94" fill="none" stroke="#2a2523" stroke-width="1.1" />
<rect x="1523.79" y="869.47" width="8.92" height="16.59" fill="#fff" stroke="#2a2523" stroke-width="1.1" />
<path d="M 1532.71 872.58 L 1542.04 872.58 Q 1545.15 872.58 1545.15 875.06 L 1545.15 880.87 Q 1545.15 882.94 1542.04 882.94 L 1532.71 882.94" fill="none" stroke="#2a2523" stroke-width="1.1" />
<polygon points="1545.15,874.65 1607.36,892.28 1607.36,898.5 1545.15,881.29" fill="#8a8785" stroke="#2a2523" stroke-width="1"/>
<line x1="1547.98" y1="876.28" x2="1547.98" y2="881.24" stroke="#fff" stroke-width="1.3" />
<line x1="1550.81" y1="877.08" x2="1550.81" y2="882.02" stroke="#fff" stroke-width="1.3" />
<line x1="1553.64" y1="877.88" x2="1553.64" y2="882.8" stroke="#fff" stroke-width="1.3" />
<line x1="1556.46" y1="878.68" x2="1556.46" y2="883.59" stroke="#fff" stroke-width="1.3" />
<line x1="1559.29" y1="879.49" x2="1559.29" y2="884.37" stroke="#fff" stroke-width="1.3" />
<line x1="1562.12" y1="880.29" x2="1562.12" y2="885.15" stroke="#fff" stroke-width="1.3" />
<line x1="1564.95" y1="881.09" x2="1564.95" y2="885.93" stroke="#fff" stroke-width="1.3" />
<line x1="1567.77" y1="881.89" x2="1567.77" y2="886.71" stroke="#fff" stroke-width="1.3" />
<line x1="1570.6" y1="882.69" x2="1570.6" y2="887.5" stroke="#fff" stroke-width="1.3" />
<line x1="1573.43" y1="883.49" x2="1573.43" y2="888.28" stroke="#fff" stroke-width="1.3" />
<line x1="1576.26" y1="884.29" x2="1576.26" y2="889.06" stroke="#fff" stroke-width="1.3" />
<line x1="1579.08" y1="885.09" x2="1579.08" y2="889.84" stroke="#fff" stroke-width="1.3" />
<line x1="1581.91" y1="885.89" x2="1581.91" y2="890.63" stroke="#fff" stroke-width="1.3" />
<line x1="1584.74" y1="886.7" x2="1584.74" y2="891.41" stroke="#fff" stroke-width="1.3" />
<line x1="1587.57" y1="887.5" x2="1587.57" y2="892.19" stroke="#fff" stroke-width="1.3" />
<line x1="1590.4" y1="888.3" x2="1590.4" y2="892.97" stroke="#fff" stroke-width="1.3" />
<line x1="1593.22" y1="889.1" x2="1593.22" y2="893.76" stroke="#fff" stroke-width="1.3" />
<line x1="1596.05" y1="889.9" x2="1596.05" y2="894.54" stroke="#fff" stroke-width="1.3" />
<line x1="1598.88" y1="890.7" x2="1598.88" y2="895.32" stroke="#fff" stroke-width="1.3" />
<line x1="1601.71" y1="891.5" x2="1601.71" y2="896.1" stroke="#fff" stroke-width="1.3" />
<line x1="1604.53" y1="892.3" x2="1604.53" y2="896.88" stroke="#fff" stroke-width="1.3" />
<path d="M 1608.4 822.4 L 1608.4 911.98 L 1612.55 911.98 L 1612.55 822.4 M 1610.06 853.91 L 1610.06 897.46" fill="none" stroke="#2a2523" stroke-width="1.1" />
<rect x="1600.1" y="897.46" width="20.74" height="5.18" fill="#fff" stroke="#2a2523" stroke-width="1.1" />
<path d="M 1537.9 842.51 C 1586.63 842.09 1617.73 841.47 1630.17 838.36 C 1640.54 835.25 1646.76 829.03 1648.83 822.4" fill="none" stroke="#2a2523" stroke-width="0.9" />
<path d="M 1634.32 822.4 C 1633.07 841.47 1635.56 866.36 1634.32 889.17" fill="none" stroke="#1f1a17" stroke-width="8.5" />
<rect x="1626.65" y="889.17" width="12.86" height="8.29" fill="#fff" stroke="#2a2523" stroke-width="1.1" />
<rect x="1627.48" y="897.46" width="11.2" height="5.18" fill="#fff" stroke="#2a2523" stroke-width="1.1" />
<rect x="1622.91" y="902.64" width="21.77" height="11.4" fill="#fff" stroke="#2a2523" stroke-width="1.1" />
<path d="M 1627.48 902.64 L 1627.48 920.68 Q 1627.48 926.49 1633.49 926.49 Q 1639.5 926.49 1639.5 920.68 L 1639.5 902.64" fill="none" stroke="#2a2523" stroke-width="1.1" />
<path d="M 1622.91 921.93 L 1670.19 921.93 L 1670.19 938.93 L 1622.91 938.93" fill="none" stroke="#2a2523" stroke-width="1.1" />
<rect x="1618.77" y="918.61" width="4.15" height="24.05" fill="none" stroke="#2a2523" stroke-width="1.1" />
<path d="M 1618.77 919.85 L 1611.51 925.45 L 1611.51 934.78 L 1618.77 941.42" fill="none" stroke="#2a2523" stroke-width="1.1" />
<rect x="1603.21" y="925.45" width="8.29" height="9.33" fill="none" stroke="#2a2523" stroke-width="1.1" />
<path d="M 1667.5 920.27 L 1687.2 889.79 L 1767.65 889.79" fill="none" stroke="#2a2523" stroke-width="1" />
<path d="M 1546.54 620.32 C 1547.37 618.41 1557.33 617.75 1578.06 617.17 C 1594.65 617 1611.24 619.49 1622.85 622.23 L 1622.44 624.47" fill="none" stroke="#2a2523" stroke-width="1.1" />
<path d="M 1547.79 621.73 C 1561.47 619.74 1594.65 619.91 1622.44 624.47" fill="none" stroke="#2a2523" stroke-width="1.1" />
<path d="M 1546.54 620.32 C 1545.88 622.23 1547.54 623.89 1550.03 624.3 C 1565.62 625.3 1579.72 628.2 1585.53 631.52 C 1589.67 636.5 1592.99 643.13 1593.82 648.11 C 1593.82 651.84 1592.16 654.91 1588.85 656.82 C 1587.19 657.4 1585.53 657.4 1583.04 657.07 C 1573.92 655.57 1561.47 651.26 1553.18 651.01 C 1546.54 651.01 1540.74 654.74 1539.74 662.21 L 1539.91 663.45 C 1561.47 668.02 1594.65 676.31 1605.85 701.86" fill="none" stroke="#2a2523" stroke-width="1.1" />
<path d="M 1544.47 665.11 L 1544.05 669.67 L 1560.23 674.65 L 1561.47 668.68" fill="none" stroke="#2a2523" stroke-width="1.1" />
<path d="M 1622.85 622.23 L 1627.83 639.81 L 1643.59 702.02" fill="none" stroke="#2a2523" stroke-width="1.1" />
<path d="M 1594.24 645.62 L 1627 638.16 M 1593.82 650.6 L 1628 642.47" fill="none" stroke="#2a2523" stroke-width="1.1" />
<path d="M 1585.53 631.52 C 1591.33 634.01 1597.14 638.16 1602.12 643.13 M 1614.14 624.88 L 1620.36 638.57" fill="none" stroke="#2a2523" stroke-width="1.1" />
<path d="M 1634.47 639.15 L 1647.74 639.15 L 1643.59 650.18 L 1638.2 650.18 Z" fill="none" stroke="#2a2523" stroke-width="1.1" />
<path d="M 1638.45 650.18 L 1638.45 683.78 M 1640.02 650.18 L 1640.02 689.58 M 1642.76 650.18 L 1642.76 702.02" fill="none" stroke="#2a2523" stroke-width="1.1" />
<polygon points="1641.3,532.17 1641.3,564.59 1656.92,548.24" fill="none" stroke="#1f1a17" stroke-width="2.6" stroke-linejoin="miter"/>
</g>
<text transform="translate(1996.93,0) scale(1.1000,1)" fill="#1f1a17"><tspan x="-0.49 20.35" y="564.12" font-family='"IPAGothic", "Liberation Mono", monospace' font-size="36.62" stroke="#1f1a17" stroke-width="0.73" stroke-linejoin="round">WL</tspan></text>
<text transform="translate(2091.26,0) scale(1.1000,1)" fill="#1f1a17"><tspan x="-1.02 14.51" y="886.67" font-family='"IPAGothic", "Liberation Mono", monospace' font-size="26.51" stroke="#1f1a17" stroke-width="0.37" stroke-linejoin="round">G1</tspan><tspan x="28.04" y="886.34" font-family='"Liberation Mono", monospace' font-size="29.58">/</tspan><tspan x="45.95" y="886.82" font-family='"IPAGothic", "Liberation Mono", monospace' font-size="26.71" stroke="#1f1a17" stroke-width="0.37" stroke-linejoin="round">2</tspan><tspan x="62.61" y="879.57" font-family='"Liberation Mono", monospace' font-size="18.63">&quot;</tspan></text>
<line x1="1896" y1="898" x2="1896" y2="983" stroke="#2a2523" stroke-width="1.1" />
<line x1="1924" y1="898" x2="1924" y2="983" stroke="#2a2523" stroke-width="1.1" />
<path d="M 1894.3 992.24 L 1894.3 1036.39 L 1925.77 1036.39 L 1925.77 992.24" fill="none" stroke="#2a2523" stroke-width="1.1" />
<rect x="1888.08" y="982.29" width="42.66" height="9.95" fill="#fff" stroke="#2a2523" stroke-width="1.1" />
<rect x="1889.28" y="983.59" width="40.26" height="4.98" fill="none" stroke="#2a2523" stroke-width="0.8" />
<line x1="1895.04" y1="983.59" x2="1895.04" y2="988.56" stroke="#6a6664" stroke-width="1.6" />
<line x1="1900.79" y1="983.59" x2="1900.79" y2="988.56" stroke="#6a6664" stroke-width="1.6" />
<line x1="1906.54" y1="983.59" x2="1906.54" y2="988.56" stroke="#6a6664" stroke-width="1.6" />
<line x1="1912.29" y1="983.59" x2="1912.29" y2="988.56" stroke="#6a6664" stroke-width="1.6" />
<line x1="1918.04" y1="983.59" x2="1918.04" y2="988.56" stroke="#6a6664" stroke-width="1.6" />
<line x1="1923.79" y1="983.59" x2="1923.79" y2="988.56" stroke="#6a6664" stroke-width="1.6" />
<path d="M 1894.93 1036.39 C 1895.55 1059.4 1916.07 1078.06 1943.43 1078.06 C 1969.55 1078.06 1988.21 1058.16 1988.21 1028.56" fill="none" stroke="#2a2523" stroke-width="1.1" />
<path d="M 1922.29 1036.39 C 1923.53 1045.72 1932.24 1051.94 1942.19 1051.94 C 1953.38 1051.94 1962.09 1043.23 1962.09 1028.56" fill="none" stroke="#2a2523" stroke-width="1.1" />
<path d="M 1910.47 1036.39 C 1912.34 1051.94 1924.78 1064.75 1942.81 1064.75 C 1962.09 1064.75 1974.78 1049.45 1975.15 1028.56" fill="none" stroke="#2a2523" stroke-width="0.9" stroke-dasharray="14 3 2 3"/>
<rect x="1953.13" y="1015.25" width="42.79" height="9.58" fill="#fff" stroke="#2a2523" stroke-width="1.1" />
<rect x="1954.33" y="1016.55" width="40.39" height="4.79" fill="none" stroke="#2a2523" stroke-width="0.8" />
<line x1="1960.1" y1="1016.55" x2="1960.1" y2="1021.34" stroke="#6a6664" stroke-width="1.6" />
<line x1="1965.87" y1="1016.55" x2="1965.87" y2="1021.34" stroke="#6a6664" stroke-width="1.6" />
<line x1="1971.64" y1="1016.55" x2="1971.64" y2="1021.34" stroke="#6a6664" stroke-width="1.6" />
<line x1="1977.41" y1="1016.55" x2="1977.41" y2="1021.34" stroke="#6a6664" stroke-width="1.6" />
<line x1="1983.18" y1="1016.55" x2="1983.18" y2="1021.34" stroke="#6a6664" stroke-width="1.6" />
<line x1="1988.95" y1="1016.55" x2="1988.95" y2="1021.34" stroke="#6a6664" stroke-width="1.6" />
<rect x="1960.85" y="1025.2" width="28.61" height="3.36" fill="#fff" stroke="#2a2523" stroke-width="1.1" />
<path d="M 1959.6 1015.25 C 1960.85 989.75 1979.5 973.58 2004.38 973.58 L 2046.67 973.58" fill="none" stroke="#2a2523" stroke-width="1.1" />
<path d="M 1988.21 1015.25 C 1989.45 1005.92 1995.67 1000.7 2006.87 1000.7 L 2046.67 1000.7" fill="none" stroke="#2a2523" stroke-width="1.1" />
<path d="M 1975.15 1015.25 C 1978.26 995.97 1988.21 987.51 2005.62 987.51 L 2095.17 987.51" fill="none" stroke="#2a2523" stroke-width="0.9" stroke-dasharray="14 3 2 3"/>
<path d="M 2060.97 958.41 L 2046.67 969.85 L 2046.67 1004.68 L 2060.97 1017.36" fill="none" stroke="#2a2523" stroke-width="1.1" />
<line x1="1965.8" y1="822.5" x2="1965.8" y2="1376" stroke="#1f1a17" stroke-width="2.3" />
<polygon points="2064.7,962.14 2090.2,966.74 2090.2,1007.16 2064.7,1013.38" fill="#9a9896" stroke="#6a6664" stroke-width="0.8" stroke-linejoin="round"/>
<line x1="2066.83" y1="962.9" x2="2066.83" y2="1012.49" stroke="#6a6664" stroke-width="0.8" />
<line x1="2068.95" y1="963.28" x2="2068.95" y2="1011.97" stroke="#6a6664" stroke-width="0.8" />
<line x1="2071.08" y1="963.66" x2="2071.08" y2="1011.46" stroke="#6a6664" stroke-width="0.8" />
<line x1="2073.2" y1="964.05" x2="2073.2" y2="1010.94" stroke="#6a6664" stroke-width="0.8" />
<line x1="2075.33" y1="964.43" x2="2075.33" y2="1010.42" stroke="#6a6664" stroke-width="0.8" />
<line x1="2077.45" y1="964.81" x2="2077.45" y2="1009.9" stroke="#6a6664" stroke-width="0.8" />
<line x1="2079.58" y1="965.2" x2="2079.58" y2="1009.38" stroke="#6a6664" stroke-width="0.8" />
<line x1="2081.7" y1="965.58" x2="2081.7" y2="1008.86" stroke="#6a6664" stroke-width="0.8" />
<line x1="2083.82" y1="965.96" x2="2083.82" y2="1008.35" stroke="#6a6664" stroke-width="0.8" />
<line x1="2085.95" y1="966.35" x2="2085.95" y2="1007.83" stroke="#6a6664" stroke-width="0.8" />
<line x1="2088.07" y1="966.73" x2="2088.07" y2="1007.31" stroke="#6a6664" stroke-width="0.8" />
<line x1="2062.6" y1="940" x2="2062.6" y2="1030" stroke="#1f1a17" stroke-width="3.4" />
<line x1="2041.69" y1="987.51" x2="2095.17" y2="987.51" stroke="#2a2523" stroke-width="0.9" stroke-dasharray="14 3 2 3"/>
<path d="M 2070.3 1014.25 L 2093.93 1047.21 L 2161.72 1047.21" fill="none" stroke="#2a2523" stroke-width="1" />
<text transform="translate(2099.53,0) scale(1.1000,1)" fill="#1f1a17"><tspan x="-2.57" y="1040.03" font-family='"Noto Sans CJK SC", sans-serif' font-size="25.36">φ</tspan><tspan x="20.04 37.15" y="1041.57" font-family='"IPAGothic", "Liberation Mono", monospace' font-size="23.82" stroke="#1f1a17" stroke-width="0.29" stroke-linejoin="round">32</tspan></text>
<text transform="translate(1715.13,0) scale(1.1500,1)" fill="#1f1a17"><tspan x="-2.52 20.79" y="1349.2" font-family='"IPAGothic", "Liberation Mono", monospace' font-size="38.83" stroke="#1f1a17" stroke-width="0.47" stroke-linejoin="round">FL</tspan></text>
<polygon points="1715.13,1356.61 1753.28,1356.61 1734.49,1373.48" fill="none" stroke="#1f1a17" stroke-width="2.4" stroke-linejoin="miter"/>
</svg>
</body>
</html>
